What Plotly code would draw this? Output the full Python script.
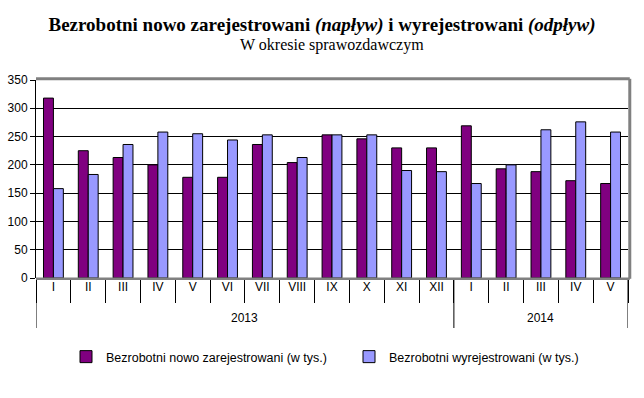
import plotly.graph_objects as go

years = ["2013"] * 12 + ["2014"] * 5
months = ["I", "II", "III", "IV", "V", "VI", "VII", "VIII", "IX", "X", "XI", "XII",
          "I", "II", "III", "IV", "V"]
napływ = [318, 225, 213, 200, 178, 178, 236, 204, 253, 246, 230, 230,
          269, 193, 188, 172, 167]
odpływ = [158, 183, 236, 258, 255, 244, 253, 213, 253, 253, 190, 188,
          167, 200, 262, 276, 258]
series_names = ["Bezrobotni nowo zarejestrowani (w tys.)",
                "Bezrobotni wyrejestrowani (w tys.)"]
y_ticks = [0, 50, 100, 150, 200, 250, 300, 350]

keys = [f"{y}-{m}" for y, m in zip(years, months)]

fig = go.Figure()
fig.add_trace(go.Bar(x=keys, y=napływ, name=series_names[0],
                     marker=dict(color="#800080", line=dict(color="black", width=1))))
fig.add_trace(go.Bar(x=keys, y=odpływ, name=series_names[1],
                     marker=dict(color="#9999FF", line=dict(color="black", width=1))))

PH = 198.0  # plot height in px
PW = 592.0  # plot width in px
def py(px):  # pixel offset below plot bottom -> paper y
    return -px / PH

shapes = []
annotations = [dict(text="W okresie sprawozdawczym", xref="paper", yref="paper",
                    x=0.5, y=(278 - 45) / PH, xanchor="center", yanchor="middle",
                    showarrow=False,
                    font=dict(family="Liberation Serif, Times New Roman", size=16))]

# year groups: dividers and labels
uniq_years = list(dict.fromkeys(years))
bounds = [-0.5]
for yr in uniq_years:
    idx = [i for i, y in enumerate(years) if y == yr]
    bounds.append(idx[-1] + 0.5)
    annotations.append(dict(text=yr, x=(idx[0] + idx[-1]) / 2, xref="x", yref="paper",
                            y=py(40), yanchor="middle", showarrow=False,
                            font=dict(size=12)))
for b in bounds:
    shapes.append(dict(type="line", xref="x", yref="paper", x0=b, x1=b, y0=0, y1=py(50),
                       line=dict(color="black", width=1)))

# gray shadow border at top, right and bottom of the plot area
shapes.append(dict(type="line", xref="paper", yref="paper", x0=0, x1=1.003,
                   y0=1.006, y1=1.006, line=dict(color="#808080", width=3)))
shapes.append(dict(type="line", xref="paper", yref="paper", x0=1.003, x1=1.003,
                   y0=-0.004, y1=1.006, line=dict(color="#808080", width=3)))
shapes.append(dict(type="line", xref="paper", yref="paper", x0=0, x1=1.003,
                   y0=-0.004, y1=-0.004, line=dict(color="#808080", width=2.5)))

fig.update_layout(
    width=644, height=398,
    margin=dict(l=36, r=16, t=80, b=120),
    paper_bgcolor="white", plot_bgcolor="white",
    barmode="group", bargap=0.43, bargroupgap=0,
    font=dict(family="Liberation Sans, Arial", size=12, color="black"),
    title=dict(
        text="<b>Bezrobotni nowo zarejestrowani <i>(napływ)</i> i wyrejestrowani <i>(odpływ)</i></b>",
        font=dict(family="Liberation Serif, Times New Roman", size=19, color="black"),
        x=0.5, xanchor="center", y=1 - 24 / 398, yanchor="middle"),
    annotations=annotations,
    shapes=shapes,
    legend=dict(orientation="h", x=(66 - 36) / PW, xanchor="left", y=py(79),
                yanchor="middle", font=dict(size=12.5), itemwidth=30,
                traceorder="normal", entrywidth=238, entrywidthmode="pixels"),
    showlegend=True,
)
fig.update_yaxes(range=[0, 350], tickvals=y_ticks, showgrid=True, gridcolor="black",
                 gridwidth=1, showline=True, linecolor="black", linewidth=1,
                 ticks="outside", ticklen=5, tickcolor="black", zeroline=False,
                 tickfont=dict(size=12), automargin=False)
fig.update_xaxes(type="category", tickvals=keys, ticktext=months,
                 showline=False, ticks="outside", tickson="boundaries", ticklen=24,
                 tickcolor="black", tickfont=dict(size=12), automargin=False,
                 range=[-0.5, len(keys) - 0.5])

fig.write_html("out.html", config={"displayModeBar": False},
               post_script="document.body.style.margin='0';")
